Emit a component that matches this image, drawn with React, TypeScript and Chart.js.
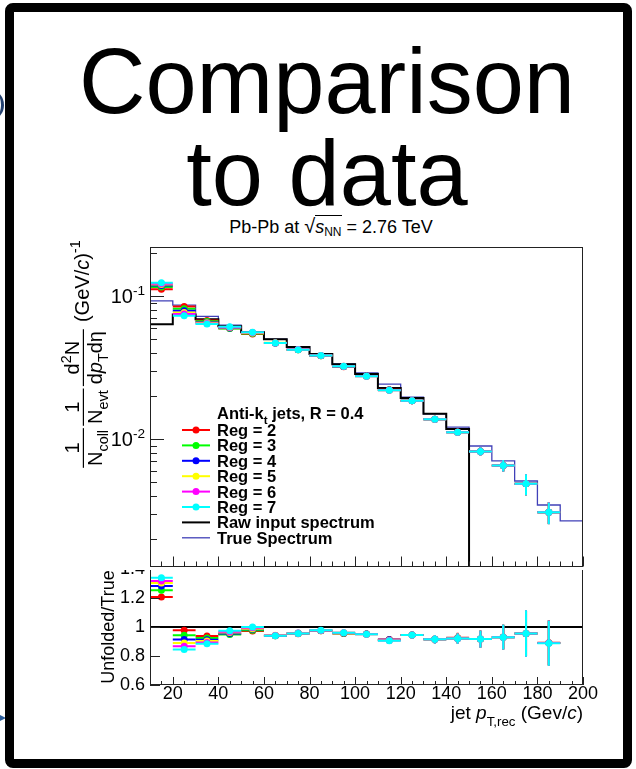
import { useEffect, useRef } from 'react';
import { Chart, registerables } from 'chart.js';

Chart.register(...registerables);

// ---- binning (jet pT, GeV/c) ----
const binEdges = [10, 20, 30, 40, 50, 60, 70, 80, 90, 100, 110, 120, 130, 140, 150, 160, 170, 180, 190, 200];
const binCenters = [15, 25, 35, 45, 55, 65, 75, 85, 95, 105, 115, 125, 135, 145, 155, 165, 175, 185];
const binHalfWidth = 5;

// ---- spectra ----
const trueSpectrum = [0.0927, 0.0865, 0.0721, 0.0627, 0.056, 0.05, 0.0442, 0.0393, 0.0336, 0.029, 0.0242, 0.0196, 0.015, 0.0121, 0.00893, 0.00702, 0.00508, 0.00345, 0.00267];
const rawSpectrum = [0.0637, 0.0745, 0.069, 0.0617, 0.056, 0.05, 0.044, 0.0393, 0.0334, 0.0285, 0.0228, 0.0194, 0.015, 0.01175];
const rawLeftEdgeFoot = 0.0324;

// ---- unfolded / true for each regularisation ----
const regLabels = ['Reg = 2', 'Reg = 3', 'Reg = 4', 'Reg = 5', 'Reg = 6', 'Reg = 7'];
const regColors = ['#ff0000', '#00ff00', '#0000ff', '#ffff00', '#ff00ff', '#00ffff'];
const ratioReg2 = [1.207, 0.977, 0.938, 0.952, 0.972, 0.94, 0.953, 0.975, 0.955, 0.952, 0.913, 0.945, 0.916, 0.926, 0.918, 0.931, 0.956, 0.891];
const ratioReg3 = [1.253, 0.943, 0.925, 0.948, 0.978, 0.94, 0.955, 0.975, 0.957, 0.951, 0.91, 0.945, 0.916, 0.922, 0.917, 0.93, 0.955, 0.89];
const ratioReg4 = [1.283, 0.913, 0.912, 0.955, 0.985, 0.942, 0.958, 0.976, 0.958, 0.951, 0.912, 0.945, 0.915, 0.921, 0.917, 0.93, 0.955, 0.89];
const ratioReg5 = [1.303, 0.89, 0.903, 0.962, 0.988, 0.943, 0.957, 0.976, 0.96, 0.95, 0.908, 0.944, 0.915, 0.92, 0.917, 0.93, 0.955, 0.889];
const ratioReg6 = [1.317, 0.867, 0.893, 0.967, 0.995, 0.941, 0.956, 0.976, 0.96, 0.95, 0.907, 0.944, 0.915, 0.92, 0.917, 0.93, 0.955, 0.889];
const ratioReg7 = [1.34, 0.844, 0.885, 0.975, 1.0, 0.94, 0.955, 0.977, 0.96, 0.95, 0.905, 0.944, 0.915, 0.92, 0.917, 0.93, 0.955, 0.888];
const ratioErr = [0.01, 0.01, 0.01, 0.01, 0.015, 0.008, 0.01, 0.01, 0.012, 0.015, 0.02, 0.022, 0.028, 0.035, 0.058, 0.085, 0.16, 0.155];
const regRatios = [ratioReg2, ratioReg3, ratioReg4, ratioReg5, ratioReg6, ratioReg7];

// ---- axes ----
const xRange = [10, 200];
const xTickValues = [20, 40, 60, 80, 100, 120, 140, 160, 180, 200];
const spectrumRange = [0.00128, 0.221];
const logLabelValues = [0.01, 0.1];
const ratioRange = [0.6, 1.4];
const ratioTickValues = [0.6, 0.8, 1, 1.2, 1.4];
const unityLevel = 1;

const SANS = '"Liberation Sans", Arial, Helvetica, sans-serif';
const OX = 14; // canvas left offset on the page
const TOP_Y = 236; // spectrum canvas top on the page
const BOT_Y = 550; // ratio canvas top on the page

type Run = { t: string; s?: number; dy?: number; it?: boolean; b?: boolean };
const fontOf = (r: Run, F: number, bold = false) =>
  `${r.it ? 'italic ' : ''}${r.b || bold ? 'bold ' : ''}${(r.s ?? 1) * F}px ${SANS}`;

function runsWidth(ctx: CanvasRenderingContext2D, runs: Run[], F: number, bold = false) {
  let w = 0;
  for (const r of runs) {
    ctx.font = fontOf(r, F, bold);
    w += ctx.measureText(r.t).width;
  }
  return w;
}

function drawRuns(ctx: CanvasRenderingContext2D, runs: Run[], x: number, y: number, F: number, bold = false) {
  let cx = x;
  ctx.textAlign = 'left';
  ctx.textBaseline = 'alphabetic';
  for (const r of runs) {
    ctx.font = fontOf(r, F, bold);
    ctx.fillText(r.t, cx, y + (r.dy ?? 0) * F);
    cx += ctx.measureText(r.t).width;
  }
  return cx - x;
}

function drawFraction(ctx: CanvasRenderingContext2D, num: Run[], den: Run[], x: number, F: number) {
  const pad = 0.15 * F;
  const wn = runsWidth(ctx, num, F);
  const wd = runsWidth(ctx, den, F);
  const w = Math.max(wn, wd) + 2 * pad;
  const bar = -0.28 * F;
  drawRuns(ctx, num, x + (w - wn) / 2, bar - 0.2 * F, F);
  drawRuns(ctx, den, x + (w - wd) / 2, bar + 0.92 * F, F);
  ctx.fillRect(x + pad * 0.4, bar - 0.6, w - pad * 0.8, 1.2);
  return w;
}

// horizontal (bin width) and vertical (uncertainty) bars under each marker set
const errorBarPlugin = {
  id: 'errorBars',
  beforeDatasetDraw(chart: any, args: any) {
    const ds = chart.data.datasets[args.index];
    if (!ds.errY) return;
    const { ctx, chartArea: a } = chart;
    const xs = chart.scales.x;
    const ys = chart.scales.y;
    ctx.save();
    ctx.beginPath();
    ctx.rect(a.left, a.top, a.right - a.left, a.bottom - a.top);
    ctx.clip();
    ctx.strokeStyle = ds.borderColor;
    ctx.lineWidth = 2;
    ds.data.forEach((d: any, j: number) => {
      const e = ds.errY[j];
      const px = xs.getPixelForValue(d.x);
      const py = ys.getPixelForValue(d.y);
      ctx.beginPath();
      ctx.moveTo(xs.getPixelForValue(d.x - binHalfWidth), py);
      ctx.lineTo(xs.getPixelForValue(d.x + binHalfWidth), py);
      ctx.moveTo(px, ys.getPixelForValue(d.y + e));
      ctx.lineTo(px, ys.getPixelForValue(d.y - e));
      ctx.stroke();
    });
    ctx.restore();
  },
};

function drawBottomTicks(chart: any, major: number, minor: number) {
  const { ctx, chartArea: a } = chart;
  const xs = chart.scales.x;
  ctx.beginPath();
  for (let v = xRange[0]; v <= xRange[1]; v += 5) {
    const len = v % 20 === 0 ? major : minor;
    const px = Math.round(xs.getPixelForValue(v)) + 0.5;
    ctx.moveTo(px, a.bottom);
    ctx.lineTo(px, a.bottom - len);
  }
  ctx.stroke();
}

const spectrumDecor = {
  id: 'spectrumDecor',
  beforeDraw(chart: any) {
    const { ctx, width, height } = chart;
    ctx.save();
    ctx.fillStyle = '#fff';
    ctx.fillRect(0, 0, width, height);
    ctx.restore();
  },
  afterDraw(chart: any) {
    const { ctx, chartArea: a } = chart;
    const ys = chart.scales.y;
    ctx.save();
    ctx.strokeStyle = '#222';
    ctx.lineWidth = 1;
    ctx.strokeRect(a.left + 0.5, a.top + 0.5, a.right - a.left - 1, a.bottom - a.top - 0.5);
    drawBottomTicks(chart, 10, 5);

    // log-axis ticks, inside the frame
    ctx.beginPath();
    for (const dec of [0.001, 0.01, 0.1]) {
      for (let m = 1; m <= 9; m++) {
        const v = m * dec;
        if (v < spectrumRange[0] || v > spectrumRange[1]) continue;
        const py = Math.round(ys.getPixelForValue(v)) + 0.5;
        ctx.moveTo(a.left, py);
        ctx.lineTo(a.left + (m === 1 ? 14 : 7), py);
      }
    }
    ctx.stroke();

    // decade labels
    ctx.fillStyle = '#000';
    const F = 20;
    for (const v of logLabelValues) {
      const py = ys.getPixelForValue(v);
      const runs: Run[] = [{ t: '10' }, { t: `-${Math.round(-Math.log10(v))}`, s: 0.68, dy: -0.42 }];
      const w = runsWidth(ctx, runs, F);
      drawRuns(ctx, runs, a.left - 5 - w, py + 0.36 * F, F);
    }

    // y-axis title
    const T = 20;
    ctx.save();
    ctx.translate(89 - OX, 469 - TOP_Y);
    ctx.rotate(-Math.PI / 2);
    let x = 0;
    x += drawFraction(ctx, [{ t: '1' }], [{ t: 'N' }, { t: 'coll', s: 0.72, dy: 0.3 }], x, T);
    x += drawFraction(ctx, [{ t: '1' }], [{ t: 'N' }, { t: 'evt', s: 0.72, dy: 0.3 }], x, T);
    x += drawFraction(
      ctx,
      [{ t: 'd' }, { t: '2', s: 0.72, dy: -0.42 }, { t: 'N' }],
      [{ t: 'd' }, { t: 'p', it: true }, { t: 'T', s: 0.72, dy: 0.3 }, { t: 'd' }, { t: 'η' }],
      x,
      T
    );
    x += 0.3 * T;
    drawRuns(ctx, [{ t: '(GeV/' }, { t: 'c', it: true }, { t: ')' }, { t: '-1', s: 0.72, dy: -0.45 }], x, 0, T);
    ctx.restore();

    // legend
    const L = 16.5;
    const lx0 = 182 - OX;
    const lx1 = 210 - OX;
    const tx = 217 - OX;
    const rowY = (k: number) => 430 - TOP_Y + 15.4 * k;
    drawRuns(ctx, [{ t: 'Anti-k' }, { t: 't', s: 0.7, dy: 0.3 }, { t: ' jets, R = 0.4' }], tx, 413 - TOP_Y + 0.36 * L, L, true);
    const entries = chart.data.datasets.filter((d: any) => d.legendRow !== undefined);
    entries.sort((p: any, q: any) => p.legendRow - q.legendRow);
    entries.forEach((d: any) => {
      const y = rowY(d.legendRow);
      ctx.strokeStyle = d.borderColor;
      ctx.lineWidth = d.errY ? 2 : d.borderWidth;
      ctx.beginPath();
      ctx.moveTo(lx0, y);
      ctx.lineTo(lx1, y);
      ctx.stroke();
      if (d.errY) {
        ctx.fillStyle = d.backgroundColor;
        ctx.beginPath();
        ctx.arc((lx0 + lx1) / 2, y, 3.5, 0, Math.PI * 2);
        ctx.fill();
      }
      ctx.fillStyle = '#000';
      drawRuns(ctx, [{ t: d.label }], tx, y + 0.36 * L, L, true);
    });
    ctx.restore();
  },
};

const ratioDecor = {
  id: 'ratioDecor',
  afterDraw(chart: any) {
    const { ctx, chartArea: a } = chart;
    const ys = chart.scales.y;
    ctx.save();
    ctx.strokeStyle = '#222';
    ctx.lineWidth = 1;
    ctx.strokeRect(a.left + 0.5, a.top + 0.5, a.right - a.left - 1, a.bottom - a.top - 1);
    drawBottomTicks(chart, 8, 4);
    ctx.beginPath();
    for (const v of ratioTickValues) {
      const py = Math.round(ys.getPixelForValue(v)) + 0.5;
      ctx.moveTo(a.left, py);
      ctx.lineTo(a.left + 10, py);
    }
    ctx.stroke();

    ctx.fillStyle = '#000';
    const T = 18;
    // y title
    ctx.save();
    ctx.translate(114 - OX, (a.top + a.bottom) / 2);
    ctx.rotate(-Math.PI / 2);
    const yt: Run[] = [{ t: 'Unfolded/True' }];
    drawRuns(ctx, yt, -runsWidth(ctx, yt, T) / 2, 0, T);
    ctx.restore();
    // x title
    const X = 19;
    const xt: Run[] = [
      { t: 'jet ' },
      { t: 'p', it: true },
      { t: 'T,rec', s: 0.7, dy: 0.35 },
      { t: ' (Gev/' },
      { t: 'c', it: true },
      { t: ')' },
    ];
    drawRuns(ctx, xt, a.right - runsWidth(ctx, xt, X), 719 - BOT_Y, X);
    ctx.restore();
  },
};

function histogramPoints(values: number[]) {
  const pts = values.map((v, i) => ({ x: binEdges[i], y: v }));
  pts.push({ x: binEdges[values.length], y: values[values.length - 1] });
  return pts;
}

function spectrumConfig(): any {
  const regSets = regRatios.map((ratio, i) => ({
    type: 'scatter',
    label: regLabels[i],
    data: binCenters.map((x, j) => ({ x, y: trueSpectrum[j] * ratio[j] })),
    errY: binCenters.map((_, j) => trueSpectrum[j] * ratioErr[j]),
    borderColor: regColors[i],
    backgroundColor: regColors[i],
    pointRadius: 3.5,
    pointBorderWidth: 0,
    pointHoverRadius: 3.5,
    order: 6 - i,
    legendRow: i,
  }));
  const rawPts = [{ x: binEdges[0], y: rawLeftEdgeFoot }, ...histogramPoints(rawSpectrum), { x: binEdges[rawSpectrum.length], y: 1e-6 }];
  return {
    type: 'scatter',
    data: {
      datasets: [
        ...regSets,
        {
          type: 'line',
          label: 'Raw input spectrum',
          data: rawPts,
          stepped: 'before',
          borderColor: '#000',
          borderWidth: 2,
          pointRadius: 0,
          fill: false,
          order: 8,
          legendRow: 6,
        },
        {
          type: 'line',
          label: 'True Spectrum',
          data: histogramPoints(trueSpectrum),
          stepped: 'before',
          borderColor: '#4040b8',
          borderWidth: 1.3,
          pointRadius: 0,
          fill: false,
          order: 9,
          legendRow: 7,
        },
      ],
    },
    options: {
      responsive: false,
      animation: false,
      devicePixelRatio: 1,
      events: [],
      layout: { padding: { left: 150 - OX, right: 622 - 583, top: 11, bottom: 1 } },
      scales: {
        x: { type: 'linear', min: xRange[0], max: xRange[1], display: false },
        y: { type: 'logarithmic', min: spectrumRange[0], max: spectrumRange[1], display: false },
      },
      plugins: { legend: { display: false }, tooltip: { enabled: false } },
    },
    plugins: [errorBarPlugin, spectrumDecor],
  };
}

function ratioConfig(): any {
  const regSets = regRatios.map((ratio, i) => ({
    type: 'scatter',
    label: regLabels[i],
    data: binCenters.map((x, j) => ({ x, y: ratio[j] })),
    errY: ratioErr,
    borderColor: regColors[i],
    backgroundColor: regColors[i],
    pointRadius: 3.5,
    pointBorderWidth: 0,
    pointHoverRadius: 3.5,
    order: 6 - i,
  }));
  const tickFont = { family: SANS, size: 18 };
  return {
    type: 'scatter',
    data: {
      datasets: [
        ...regSets,
        {
          type: 'line',
          label: 'unity',
          data: [
            { x: xRange[0], y: unityLevel },
            { x: xRange[1], y: unityLevel },
          ],
          borderColor: '#000',
          borderWidth: 2,
          pointRadius: 0,
          fill: false,
          order: 10,
        },
      ],
    },
    options: {
      responsive: false,
      animation: false,
      devicePixelRatio: 1,
      events: [],
      layout: { padding: { left: 0, right: 622 - 583, top: 19, bottom: 0 } },
      scales: {
        x: {
          type: 'linear',
          min: xRange[0],
          max: xRange[1],
          afterBuildTicks: (s: any) => {
            s.ticks = xTickValues.map((value) => ({ value }));
          },
          afterFit: (s: any) => {
            s.height = 45;
          },
          grid: { display: false, drawTicks: false },
          border: { display: false },
          ticks: { font: tickFont, color: '#000', padding: -2, maxRotation: 0, autoSkip: false },
        },
        y: {
          type: 'linear',
          min: ratioRange[0],
          max: ratioRange[1],
          afterBuildTicks: (s: any) => {
            s.ticks = ratioTickValues.map((value) => ({ value }));
          },
          afterFit: (s: any) => {
            s.width = 150 - OX;
          },
          grid: { display: false, drawTicks: false },
          border: { display: false },
          ticks: {
            font: tickFont,
            color: '#000',
            padding: 5,
            autoSkip: false,
            callback: (v: any) => String(Number(Number(v).toFixed(1))),
          },
        },
      },
      plugins: { legend: { display: false }, tooltip: { enabled: false } },
    },
    plugins: [errorBarPlugin, ratioDecor],
  };
}

export default function App() {
  const topRef = useRef<HTMLCanvasElement>(null);
  const botRef = useRef<HTMLCanvasElement>(null);

  useEffect(() => {
    document.body.style.margin = '0';
    const bot = new Chart(botRef.current!, ratioConfig());
    const top = new Chart(topRef.current!, spectrumConfig());
    return () => {
      top.destroy();
      bot.destroy();
    };
  }, []);

  const titleStyle: any = {
    position: 'absolute',
    left: 9,
    width: 636,
    textAlign: 'center',
    fontFamily: SANS,
    fontSize: 92,
    lineHeight: '92px',
    color: '#000',
    whiteSpace: 'nowrap',
  };

  return (
    <div style={{ position: 'fixed', left: 0, top: 0, width: 636, height: 769, background: '#fff', overflow: 'hidden' }}>
      <div style={{ ...titleStyle, top: 35 }}>Comparison</div>
      <div style={{ ...titleStyle, top: 127 }}>to data</div>
      <div
        style={{
          position: 'absolute',
          left: 0,
          width: 662,
          top: 215,
          textAlign: 'center',
          fontFamily: SANS,
          fontSize: 18,
          lineHeight: '22px',
          whiteSpace: 'nowrap',
        }}
      >
        Pb-Pb at <span style={{ fontSize: 20 }}>√</span>
        <span style={{ borderTop: '1px solid #000', paddingTop: 1 }}>
          <i>s</i>
          <span style={{ fontSize: 12, verticalAlign: -3 }}>NN</span>
        </span>{' '}
        = 2.76 TeV
      </div>
      <canvas ref={botRef} width={608} height={180} style={{ position: 'absolute', left: OX, top: BOT_Y, zIndex: 1 }} />
      <canvas ref={topRef} width={608} height={334} style={{ position: 'absolute', left: OX, top: TOP_Y, zIndex: 2 }} />
      <div
        style={{
          position: 'absolute',
          left: 5,
          top: 3,
          width: 627,
          height: 765,
          boxSizing: 'border-box',
          border: '9px solid #000',
          borderRadius: 8,
          zIndex: 3,
          pointerEvents: 'none',
        }}
      />
      <div
        style={{
          position: 'absolute',
          left: -22,
          top: 90,
          width: 26,
          height: 30,
          boxSizing: 'border-box',
          borderRight: '3px solid #23406e',
          borderRadius: '50%',
        }}
      />
      <div
        style={{
          position: 'absolute',
          left: 0,
          top: 715,
          width: 0,
          height: 0,
          borderTop: '3px solid transparent',
          borderBottom: '3px solid transparent',
          borderLeft: '6px solid #2b5d9b',
        }}
      />
    </div>
  );
}
